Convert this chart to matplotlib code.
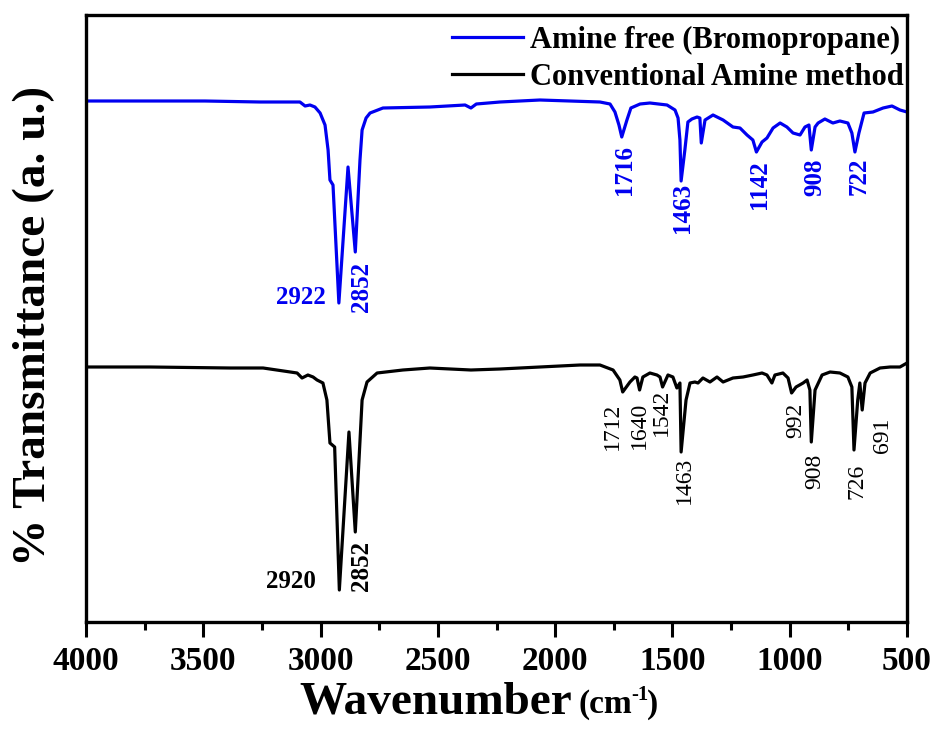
import matplotlib
matplotlib.use('Agg')
import matplotlib.pyplot as plt
import numpy as np
from matplotlib.ticker import MultipleLocator

plt.rcParams['font.family'] = ['Liberation Serif', 'DejaVu Serif']
plt.rcParams['font.weight'] = 'bold'

# amine free (bromopropane) spectrum (a.u.)
wn_blue = [4000, 3727, 3493, 3258, 3088, 3066, 3045, 3024, 3002, 2981, 2968, 2960,
           2947, 2922, 2883, 2852, 2832, 2823, 2806, 2789, 2734, 2534, 2384, 2359,
           2336, 2235, 2065, 1809, 1766, 1745, 1728, 1716, 1694, 1677, 1638, 1596,
           1523, 1489, 1476, 1468, 1463, 1447, 1434, 1417, 1395, 1383, 1377, 1361,
           1327, 1284, 1242, 1212, 1182, 1157, 1142, 1118, 1097, 1071, 1041, 1012,
           986, 956, 935, 918, 908, 892, 879, 850, 816, 786, 752, 735, 722, 705,
           683, 645, 602, 564, 530, 500]
t_blue = [521, 521, 521, 520, 520, 516, 517, 515, 509, 497, 472, 442,
          437, 319, 455, 370, 462, 492, 504, 509, 514, 515, 517, 514,
          518, 520, 522, 520, 518, 510, 497, 485, 502, 514, 518, 519,
          517, 512, 504, 482, 441, 472, 500, 503, 505, 504, 479, 502,
          507, 502, 495, 494, 487, 482, 470, 480, 484, 494, 499, 495,
          489, 487, 495, 497, 472, 495, 499, 503, 499, 501, 499, 489, 470, 489,
          509, 510, 514, 516, 512, 510]

# conventional amine method spectrum
wn_black = [4000, 3727, 3386, 3245, 3100, 3079, 3054, 3032, 3015, 2990, 2973, 2960,
            2940, 2920, 2879, 2852, 2823, 2802, 2759, 2649, 2534, 2359, 2235, 2065,
            1894, 1809, 1753, 1724, 1712, 1681, 1660, 1651, 1640, 1626, 1596, 1566,
            1553, 1542, 1519, 1498, 1481, 1468, 1463, 1442, 1425, 1404, 1391, 1370,
            1340, 1310, 1284, 1242, 1199, 1157, 1118, 1097, 1076, 1063, 1029, 1007,
            992, 973, 943, 926, 914, 908, 892, 862, 828, 786, 752, 735, 726, 710,
            701, 691, 679, 657, 615, 572, 530, 500]
t_black = [255, 255, 254, 254, 249, 244, 247, 245, 242, 239, 222, 179,
           175, 32, 190, 90, 222, 240, 249, 252, 254, 252, 253, 255,
           257, 257, 252, 242, 230, 240, 245, 244, 232, 245, 249, 247,
           245, 235, 247, 245, 234, 239, 170, 222, 239, 240, 239, 244,
           240, 245, 240, 244, 245, 247, 249, 247, 239, 247, 249, 244,
           229, 235, 239, 242, 232, 180, 232, 247, 250, 249, 245, 235, 172, 222,
           239, 212, 239, 249, 254, 255, 255, 259]

blue_peaks = [2922, 2852, 1716, 1463, 1142, 908, 722]
black_peaks = [2920, 2852, 1712, 1640, 1542, 1463, 992, 908, 726, 691]

# label placement relative to the peak tip (pixels) and orientation
blue_offsets = [(-38, 6, 0), (6, -35, 90), (3, -33, 90), (1, -27, 90),
                (3, -33, 90), (4, -27, 90), (4, -24, 90)]
black_offsets = [(-48, 9, 0), (6, -34, 90), (-10, -34, 90), (0, -35, 90),
                 (-1, -25, 90), (3, -28, 90), (4, -27, 90), (3, -29, 90),
                 (3, -31, 90), (20, -25, 90)]

fig = plt.figure(figsize=(9.41, 7.31), dpi=100)
ax = fig.add_axes([86/941, 1-622/731, (907-86)/941, (622-15)/731])

blue = '#0000f0'
ax.plot(wn_blue, t_blue, color=blue, lw=2.3, label='Amine free (Bromopropane)')
ax.plot(wn_black, t_black, color='black', lw=2.3, label='Conventional Amine method')

for pk, (dx, dy, rot) in zip(blue_peaks, blue_offsets):
    y = np.interp(pk, wn_blue[::-1], t_blue[::-1])
    ax.annotate(str(pk), (pk, y), xytext=(dx, dy), textcoords='offset pixels',
                ha='center', va='center', rotation=rot, color=blue,
                fontsize=18, fontweight='bold')
for i, (pk, (dx, dy, rot)) in enumerate(zip(black_peaks, black_offsets)):
    y = np.interp(pk, wn_black[::-1], t_black[::-1])
    ax.annotate(str(pk), (pk, y), xytext=(dx, dy), textcoords='offset pixels',
                ha='center', va='center', rotation=rot, color='black',
                fontsize=18 if i < 2 else 17, fontweight='bold' if i < 2 else 'normal')

ax.set_xlim(4000, 500)
ax.set_ylim(0, 607)
ax.xaxis.set_major_locator(MultipleLocator(500))
ax.xaxis.set_minor_locator(MultipleLocator(250))
ax.tick_params(axis='x', which='major', direction='out', length=11, width=2.2,
               labelsize=24, pad=6)
ax.tick_params(axis='x', which='minor', direction='out', length=6, width=2.2)
ax.tick_params(axis='y', left=False, labelleft=False)
for s in ax.spines.values():
    s.set_linewidth(2.4)

fig.text(34/941, 1-326/731, '% Transmittance (a. u.)', rotation=90,
         ha='center', va='center', fontsize=34, fontweight='bold')
fig.text(572/941, 1-713/731, 'Wavenumber', ha='right', va='baseline',
         fontsize=34, fontweight='bold')
fig.text(578/941, 1-713/731, '(cm', ha='left', va='baseline',
         fontsize=24, fontweight='bold')
fig.text(631/941, 1-700/731, '-1', ha='left', va='baseline',
         fontsize=15, fontweight='bold')
fig.text(647/941, 1-713/731, ')', ha='left', va='baseline',
         fontsize=24, fontweight='bold')

ax.legend(loc='upper right', bbox_to_anchor=(1.0, 1 - 8/607), frameon=False,
          fontsize=22, handlelength=2.3, handletextpad=0.25, labelspacing=0.25,
          borderaxespad=0, borderpad=0.1)

fig.savefig('out.png', dpi=100)
